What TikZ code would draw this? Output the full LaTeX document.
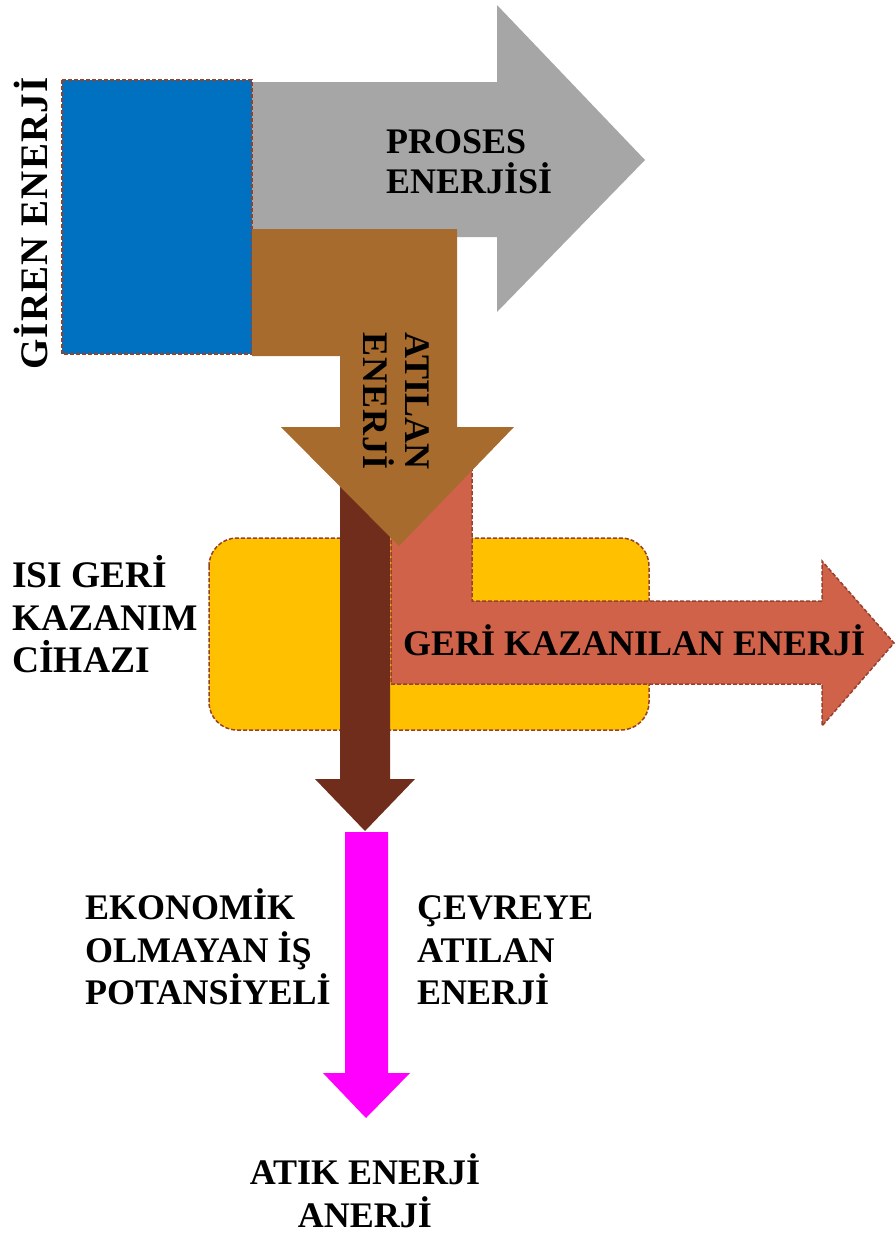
\documentclass[tikz,border=0pt]{standalone}
\usepackage{fontspec}
\setmainfont{Liberation Serif}
\definecolor{cblue}{RGB}{0,112,192}
\definecolor{cgray}{RGB}{166,166,166}
\definecolor{cbrown}{RGB}{167,108,45}
\definecolor{cdark}{RGB}{112,45,28}
\definecolor{csalmon}{RGB}{208,98,74}
\definecolor{cyellow}{RGB}{255,192,0}
\definecolor{cmag}{RGB}{255,0,255}
\definecolor{cborder}{RGB}{150,65,45}
\begin{document}
\begin{tikzpicture}[x=1pt,y=-1pt,
  lbl/.style={font=\fontsize{36}{40}\selectfont\bfseries, inner sep=0pt, anchor=base west},
  lblbig/.style={font=\fontsize{37.5}{40}\selectfont\bfseries, inner sep=0pt, anchor=base west},
  dashborder/.style={draw=cborder, line width=1.5pt, dash pattern=on 4pt off 2pt}]
\useasboundingbox (0,0) rectangle (896,1235);
% process energy (gray arrow)
\fill[cgray] (252,82) -- (497,82) -- (497,5) -- (645,160) -- (497,312) -- (497,237) -- (252,237) -- cycle;
% input energy block
\path[fill=cblue, dashborder] (62,80) rectangle (252,354);
% heat recovery device
\path[fill=cyellow, dashborder, rounded corners=28pt] (209,538) rectangle (649,730);
% dark brown arrow
\fill[cdark] (340,440) -- (390,440) -- (390,779) -- (415,779) -- (365,831) -- (315,779) -- (340,779) -- cycle;
% recovered energy arrow
\path[fill=csalmon, dashborder] (391,440) -- (472,440) -- (472,601) -- (822,601) -- (822,561) -- (894,643) -- (822,726) -- (822,684) -- (391,684) -- cycle;
% discarded energy arrow
\fill[cbrown] (252,229) -- (457,229) -- (457,427) -- (514,427) -- (399,546) -- (281,427) -- (340,427) -- (340,356) -- (252,356) -- cycle;
% waste energy arrow
\fill[cmag] (345,832) -- (388,832) -- (388,1073) -- (410,1073) -- (366,1118) -- (323,1073) -- (345,1073) -- cycle;
% labels
\node[lbl, rotate=90, font=\fontsize{39}{40}\selectfont\bfseries\addfontfeature{LetterSpace=3}] (giren) at (47,370) {GİREN ENERJİ};
\node[lbl] (proses1) at (386,153) {PROSES};
\node[lbl] (proses2) at (386,193) {ENERJİSİ};
\node[lbl, rotate=-90] (atilan1) at (405,332) {ATILAN};
\node[lbl, rotate=-90, font=\fontsize{36}{40}\selectfont\bfseries\addfontfeature{LetterSpace=3}] (atilan2) at (363,332) {ENERJİ};
\node[lblbig] (isi1) at (12,587) {ISI GERİ};
\node[lblbig] (isi2) at (12,630) {KAZANIM};
\node[lblbig] (isi3) at (12,672) {CİHAZI};
\node[lbl] (geri) at (403,655) {GERİ KAZANILAN ENERJİ};
\node[lbl] (eko1) at (85,919) {EKONOMİK};
\node[lbl] (eko2) at (85,962) {OLMAYAN İŞ};
\node[lbl] (eko3) at (85,1004) {POTANSİYELİ};
\node[lbl] (cev1) at (417,919) {ÇEVREYE};
\node[lbl] (cev2) at (417,962) {ATILAN};
\node[lbl] (cev3) at (417,1004) {ENERJİ};
\node[lbl, anchor=base] (atik1) at (365,1184) {ATIK ENERJİ};
\node[lbl, anchor=base] (atik2) at (365,1227) {ANERJİ};
\end{tikzpicture}
\end{document}
